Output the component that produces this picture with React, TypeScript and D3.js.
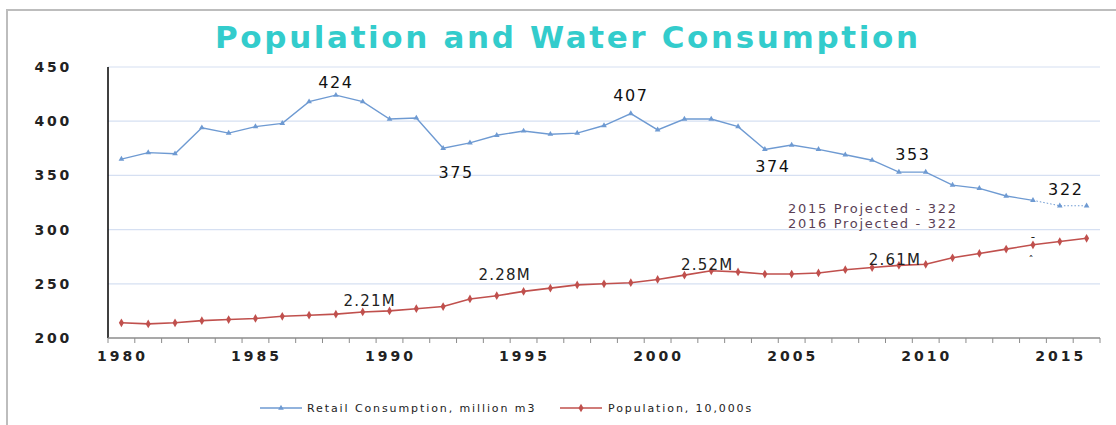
import React from 'react';
import * as d3 from 'd3';

const years = d3.range(1980, 2017).map(String);
const tickYears = ['1980', '1985', '1990', '1995', '2000', '2005', '2010', '2015'];
const yTicks = [200, 250, 300, 350, 400, 450];

// Retail Consumption, million m3 (2015, 2016 are projected)
const retail = [
  365, 371, 370, 394, 389, 395, 398, 418, 424, 418,
  402, 403, 375, 380, 387, 391, 388, 389, 396, 407,
  392, 402, 402, 395, 374, 378, 374, 369, 364, 353,
  353, 341, 338, 331, 327, 322, 322,
];
// Population, 10,000s
const population = [
  214, 213, 214, 216, 217, 218, 220, 221, 222, 224,
  225, 227, 229, 236, 239, 243, 246, 249, 250, 251,
  254, 258, 262, 261, 259, 259, 260, 263, 265, 267,
  268, 274, 278, 282, 286, 289, 292,
];

const retailLabels = [
  { year: '1988', text: '424' },
  { year: '1999', text: '407' },
  { year: '1992', text: '375' },
  { year: '2004', text: '374' },
  { year: '2009', text: '353' },
  { year: '2015', text: '322' },
];
const popLabels = [
  { year: '1989', text: '2.21M' },
  { year: '1994', text: '2.28M' },
  { year: '2002', text: '2.52M' },
  { year: '2009', text: '2.61M' },
];
const projectedNotes = ['2015 Projected - 322', '2016 Projected - 322'];

const BLUE = '#6E9AD2';
const RED = '#C0504D';
const TEAL = '#33CCCC';
const FONT = '"DejaVu Sans", Verdana, sans-serif';

// label offsets relative to the data point (layout only)
const retailOffsets: Record<string, [number, number]> = {
  '1988': [0, -7],
  '1999': [0, -13],
  '1992': [13, 30],
  '2004': [8, 23],
  '2009': [14, -12],
  '2015': [6, -11],
};
const popOffsets: Record<string, [number, number]> = {
  '1989': [7, -6],
  '1994': [8, -16],
  '2002': [-4, -1],
  '2009': [-4, 0],
};

export default function App() {
  const width = 1116;
  const height = 425;
  const margin = { top: 67, right: 16, bottom: 87, left: 108 };
  const innerW = width - margin.left - margin.right;
  const innerH = height - margin.top - margin.bottom;

  const x = d3.scaleBand().domain(years).range([0, innerW]);
  const cx = (yr: string) => (x(yr) as number) + x.bandwidth() / 2;
  const y = d3.scaleLinear().domain([200, 450]).range([innerH, 0]);

  const retailPts = years.map((yr, i) => ({ yr, v: retail[i] }));
  const popPts = years.map((yr, i) => ({ yr, v: population[i] }));
  const line = d3.line<{ yr: string; v: number }>().x((d) => cx(d.yr)).y((d) => y(d.v));

  const solidRetail = retailPts.filter((d) => +d.yr <= 2014);
  const projRetail = retailPts.filter((d) => +d.yr >= 2014);

  const tri = d3.symbol().type(d3.symbolTriangle).size(14)();
  const dia = d3.symbol().type(d3.symbolDiamond).size(22)();
  const i2014 = years.indexOf('2014');

  return (
    <svg width={width} height={height} style={{ position: 'absolute', left: 0, top: 0, background: '#fff' }}>
      <rect x={7} y={10} width={width} height={height} fill="none" stroke="#bdbdbd" strokeWidth={2} />
      <text x={215} y={48} fill={TEAL} fontFamily={FONT} fontWeight="bold" fontSize={31} textLength={703} lengthAdjust="spacing">
        Population and Water Consumption
      </text>
      <g transform={`translate(${margin.left},${margin.top})`}>
        {yTicks.map((t) => (
          <g key={t}>
            {t > 200 && <line x1={0} x2={innerW} y1={y(t)} y2={y(t)} stroke="#D6E0F2" strokeWidth={1.2} />}
            <text x={-36} y={y(t)} dy="0.35em" textAnchor="end" fontFamily={FONT} fontWeight="bold" fontSize={14} letterSpacing={2.8} fill="#222">
              {t}
            </text>
          </g>
        ))}
        <line x1={0} x2={0} y1={0} y2={innerH} stroke="#000" strokeWidth={1.5} />
        <line x1={0} x2={innerW} y1={innerH} y2={innerH} stroke="#8c8c8c" strokeWidth={1.5} />
        {years.concat(['end']).map((yr, i) => {
          const px = i * x.bandwidth();
          return <line key={yr} x1={px} x2={px} y1={innerH} y2={innerH + 5} stroke="#8c8c8c" />;
        })}
        {tickYears.map((yr) => (
          <text key={yr} x={cx(yr) + 1} y={innerH + 23} textAnchor="middle" fontFamily={FONT} fontWeight="bold" fontSize={14} letterSpacing={3} fill="#222">
            {yr}
          </text>
        ))}

        <path d={line(popPts) as string} fill="none" stroke={RED} strokeWidth={1.6} />
        {popPts.map((d) => (
          <path key={d.yr} d={dia as string} transform={`translate(${cx(d.yr)},${y(d.v)})`} fill={RED} />
        ))}

        <path d={line(solidRetail) as string} fill="none" stroke={BLUE} strokeWidth={1.4} />
        <path d={line(projRetail) as string} fill="none" stroke={BLUE} strokeWidth={1} strokeDasharray="1.5 2" />
        {retailPts.map((d) => (
          <path key={d.yr} d={tri as string} transform={`translate(${cx(d.yr)},${y(d.v)})`} fill={BLUE} />
        ))}

        {retailLabels.map((l) => {
          const i = years.indexOf(l.year);
          const [dx, dy] = retailOffsets[l.year];
          return (
            <text key={l.year} x={cx(l.year) + dx} y={y(retail[i]) + dy} textAnchor="middle" fontFamily={FONT} fontSize={16} letterSpacing={1.6} fill="#111">
              {l.text}
            </text>
          );
        })}
        {popLabels.map((l) => {
          const i = years.indexOf(l.year);
          const [dx, dy] = popOffsets[l.year];
          return (
            <text key={l.year} x={cx(l.year) + dx} y={y(population[i]) + dy} textAnchor="middle" fontFamily={FONT} fontSize={15} letterSpacing={1.2} fill="#222">
              {l.text}
            </text>
          );
        })}
        {projectedNotes.map((n, i) => (
          <text key={n} x={cx('2009') - 26} y={y(retail[years.indexOf('2015')]) + 7 + i * 15} textAnchor="middle" fontFamily={FONT} fontSize={13} letterSpacing={1.7} fill="#5a3f56">
            {n}
          </text>
        ))}
        <text x={cx('2014')} y={y(population[i2014]) - 4} textAnchor="middle" fontFamily={FONT} fontSize={12} fill="#222">-</text>
        <text x={cx('2014') - 2} y={y(population[i2014]) + 19} textAnchor="middle" fontFamily={FONT} fontSize={10} fill="#222">ˆ</text>
      </g>

      <g transform="translate(260,408)" fontFamily={FONT} fontSize={11} letterSpacing={1.9} fill="#222">
        <line x1={0} x2={42} y1={0} y2={0} stroke={BLUE} strokeWidth={1.5} />
        <path d={tri as string} transform="translate(21,0)" fill={BLUE} />
        <text x={47} y={4}>Retail Consumption, million m3</text>
        <line x1={300} x2={342} y1={0} y2={0} stroke={RED} strokeWidth={1.5} />
        <path d={dia as string} transform="translate(321,0)" fill={RED} />
        <text x={348} y={4}>Population, 10,000s</text>
      </g>
    </svg>
  );
}
